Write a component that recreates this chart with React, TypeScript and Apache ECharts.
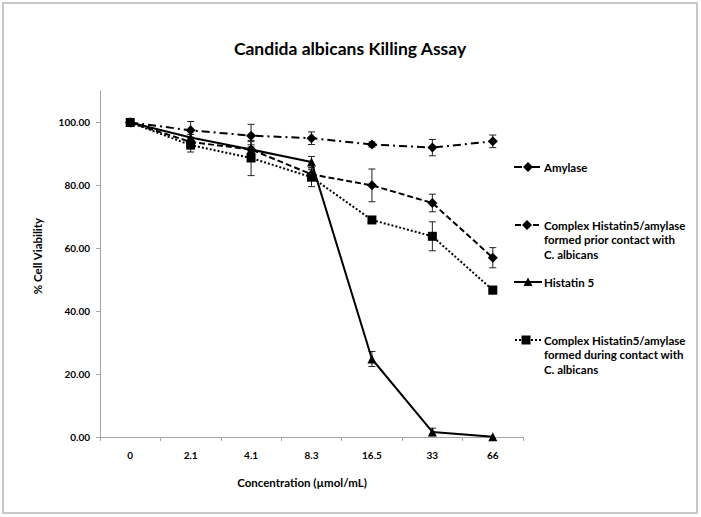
import React, { useEffect, useRef } from "react";
import * as echarts from "echarts";

const categories = ["0", "2.1", "4.1", "8.3", "16.5", "33", "66"];
const yTicks = [0, 20, 40, 60, 80, 100];

const amylase = [100, 97.5, 95.8, 95.0, 93.0, 92.0, 94.0];
const amylaseErr = [0, 2.8, 3.6, 2.0, 0.8, 2.6, 2.0];
const complexPrior = [100, 93.8, 91.4, 83.5, 80.0, 74.4, 57.0];
const complexPriorErr = [0, 1.5, 2.5, 1.5, 5.2, 2.8, 3.2];
const histatin5 = [100, 95.2, 91.4, 87.4, 24.8, 1.6, 0.1];
const histatin5Err = [0, 1.0, 1.5, 1.8, 2.4, 1.2, 0];
const complexDuring = [100, 92.8, 88.7, 82.6, 69.0, 63.8, 46.7];
const complexDuringErr = [0, 2.2, 5.6, 3.0, 0.5, 4.6, 1.2];

const names = [
  "Amylase",
  "Complex Histatin5/amylase\nformed prior contact with\nC. albicans",
  "Histatin 5",
  "Complex Histatin5/amylase\nformed during contact with\nC. albicans",
];

const FONT = "Lato";

function errSeries(vals: number[], errs: number[]) {
  return {
    type: "custom",
    silent: true,
    z: 1,
    data: vals.map((v, i) => [i, v, errs[i]]),
    renderItem: (params: any, api: any) => {
      const i = api.value(0);
      const v = api.value(1);
      const e = api.value(2);
      if (!e) return { type: "group", children: [] };
      const top = api.coord([i, v + e]);
      const bot = api.coord([i, v - e]);
      const w = 3.5;
      const style = { stroke: "#222", lineWidth: 1 };
      return {
        type: "group",
        children: [
          { type: "line", shape: { x1: top[0], y1: top[1], x2: bot[0], y2: bot[1] }, style },
          { type: "line", shape: { x1: top[0] - w, y1: top[1], x2: top[0] + w, y2: top[1] }, style },
          { type: "line", shape: { x1: bot[0] - w, y1: bot[1], x2: bot[0] + w, y2: bot[1] }, style },
        ],
      };
    },
  };
}

function legendItem(y: number, x1: number, x2: number, dash: any, marker: any, text: string) {
  return {
    type: "group",
    children: [
      {
        type: "line",
        shape: { x1, y1: y, x2, y2: y },
        style: { stroke: "#000", lineWidth: 2, lineDash: dash },
      },
      marker,
      {
        type: "text",
        x: 544,
        y: y - 7.25,
        style: {
          text,
          font: `bold 11.5px ${FONT}`,
          fill: "#000",
          lineHeight: 14.5,
          verticalAlign: "top",
          align: "left",
        },
      },
    ],
  };
}

export default function App() {
  const ref = useRef<HTMLDivElement>(null);
  useEffect(() => {
    if (!ref.current) return;
    const chart = echarts.init(ref.current, null, { renderer: "svg" });
    const dashDot = [8, 4, 2, 4];
    const dashed = [6, 3];
    const dotted = [2, 2];
    const lineSeries = (name: string, data: number[], dash: any, symbol: string, size: number) => ({
      type: "line",
      name,
      data,
      z: 3,
      symbol,
      symbolSize: size,
      itemStyle: { color: "#000" },
      lineStyle: { color: "#000", width: 2, type: dash },
    });
    chart.setOption({
      animation: false,
      backgroundColor: "#fff",
      grid: { left: 100, right: 178, top: 91, bottom: 80, containLabel: false },
      xAxis: {
        type: "category",
        data: categories,
        boundaryGap: true,
        axisLine: { lineStyle: { color: "#a6a6a6", width: 1 } },
        axisTick: { show: true, length: 4, lineStyle: { color: "#a6a6a6" } },
        axisLabel: { color: "#000", fontFamily: FONT, fontWeight: "bold", fontSize: 10, margin: 13 },
        splitLine: { show: false },
      },
      yAxis: {
        type: "value",
        min: 0,
        max: 110,
        axisLine: { show: true, lineStyle: { color: "#a6a6a6", width: 1 } },
        axisTick: { show: true, length: 4, lineStyle: { color: "#a6a6a6" }, customValues: yTicks },
        axisLabel: {
          color: "#000",
          fontFamily: FONT,
          fontWeight: "bold",
          fontSize: 10,
          margin: 10,
          customValues: yTicks,
          formatter: (v: number) => v.toFixed(2),
        },
        splitLine: { show: false },
      },
      series: [
        errSeries(amylase, amylaseErr),
        errSeries(complexPrior, complexPriorErr),
        errSeries(histatin5, histatin5Err),
        errSeries(complexDuring, complexDuringErr),
        lineSeries(names[0], amylase, dashDot, "diamond", 10),
        lineSeries(names[1], complexPrior, dashed, "diamond", 10),
        lineSeries(names[2], histatin5, "solid", "triangle", 9),
        lineSeries(names[3], complexDuring, dotted, "rect", 9),
      ],
      graphic: [
        {
          type: "rect",
          z: -10,
          shape: { x: 3, y: 3, width: 694, height: 510 },
          style: { fill: "none", stroke: "#c8c8c8", lineWidth: 2 },
        },
        {
          type: "text",
          x: 350,
          y: 48,
          style: {
            text: "Candida albicans Killing Assay",
            font: `bold 17.5px ${FONT}`,
            fill: "#000",
            align: "center",
            verticalAlign: "middle",
          },
        },
        {
          type: "text",
          x: 302,
          y: 482,
          style: {
            text: "Concentration (µmol/mL)",
            font: `bold 11.5px ${FONT}`,
            fill: "#000",
            align: "center",
            verticalAlign: "middle",
          },
        },
        {
          type: "text",
          x: 37,
          y: 256,
          rotation: Math.PI / 2,
          style: {
            text: "% Cell Viability",
            font: `bold 11.5px ${FONT}`,
            fill: "#000",
            align: "center",
            verticalAlign: "middle",
          },
        },
        legendItem(167, 514, 542, dashDot,
          { type: "polygon", shape: { points: [[528, 162], [533, 167], [528, 172], [523, 167]] }, style: { fill: "#000" } },
          names[0]),
        legendItem(225, 515, 542, dashed,
          { type: "polygon", shape: { points: [[527, 220], [532, 225], [527, 230], [522, 225]] }, style: { fill: "#000" } },
          names[1]),
        legendItem(282, 514, 542, "solid",
          { type: "polygon", shape: { points: [[528, 277.5], [532.5, 286], [523.5, 286]] }, style: { fill: "#000" } },
          names[2]),
        legendItem(340, 515, 542, dotted,
          { type: "rect", shape: { x: 521.5, y: 335.5, width: 9, height: 9 }, style: { fill: "#000" } },
          names[3]),
      ],
    });
    return () => chart.dispose();
  }, []);
  return (
    <div
      ref={ref}
      style={{ position: "fixed", left: 0, top: 0, width: 701, height: 517, background: "#fff" }}
    />
  );
}
